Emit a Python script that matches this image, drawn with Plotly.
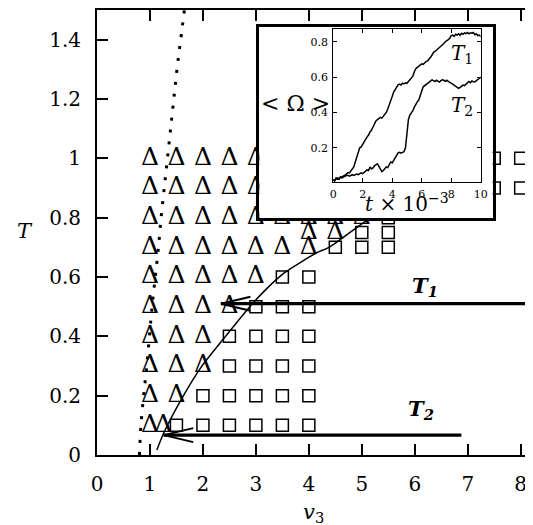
import plotly.graph_objects as go

# ---------------- data ----------------
v3_ticks = [0, 1, 2, 3, 4, 5, 6, 7, 8]
T_ticks = [0, 0.2, 0.4, 0.6, 0.8, 1.0, 1.2, 1.4]
T_tick_text = ["0", "0.2", "0.4", "0.6", "0.8", "1", "1.2", "1.4"]

# triangle-phase points
tri_v3 = [1, 1.5, 2, 2.5, 3,
          1, 1.5, 2, 2.5, 3,
          1, 1.5, 2, 2.5, 3, 3.5, 4, 4.5, 5,
          4, 4.5,
          1, 1.5, 2, 2.5, 3, 3.5, 4,
          1, 1.5, 2, 2.5, 3,
          1, 1.5, 2, 2.5,
          1, 1.5, 2,
          1, 1.5, 2,
          1, 1.5,
          1, 1.25]
tri_T = [1.0, 1.0, 1.0, 1.0, 1.0,
         0.9, 0.9, 0.9, 0.9, 0.9,
         0.8, 0.8, 0.8, 0.8, 0.8, 0.8, 0.8, 0.8, 0.8,
         0.75, 0.75,
         0.7, 0.7, 0.7, 0.7, 0.7, 0.7, 0.7,
         0.6, 0.6, 0.6, 0.6, 0.6,
         0.5, 0.5, 0.5, 0.5,
         0.4, 0.4, 0.4,
         0.3, 0.3, 0.3,
         0.2, 0.2,
         0.1, 0.1]

# square-phase points
sq_v3 = [7.5, 8,
         7.5, 8,
         5.5,
         5, 5.5,
         4.5, 5, 5.5,
         3.5, 4,
         3, 3.5, 4,
         2.5, 3, 3.5, 4,
         2.5, 3, 3.5, 4,
         2, 2.5, 3, 3.5, 4,
         1.5, 2, 2.5, 3, 3.5, 4]
sq_T = [1.0, 1.0,
        0.9, 0.9,
        0.8,
        0.75, 0.75,
        0.7, 0.7, 0.7,
        0.6, 0.6,
        0.5, 0.5, 0.5,
        0.4, 0.4, 0.4, 0.4,
        0.3, 0.3, 0.3, 0.3,
        0.2, 0.2, 0.2, 0.2, 0.2,
        0.1, 0.1, 0.1, 0.1, 0.1, 0.1]

# dotted boundary
bnd_T = [0, 0.1, 0.2, 0.3, 0.4, 0.5, 0.6, 0.7, 0.8, 0.9, 1.0, 1.1, 1.2, 1.3, 1.4, 1.5]
bnd_v3 = [0.80, 0.83, 0.88, 0.94, 0.99, 1.04, 1.10, 1.16, 1.21, 1.27, 1.33, 1.39, 1.45, 1.51, 1.58, 1.65]

# thin pointer curve
ptr_v3 = [1.13, 1.26, 1.60, 1.97, 2.45, 2.88, 3.20, 3.53, 4.14, 4.39, 5.02, 5.6]
ptr_T = [0.017, 0.074, 0.190, 0.297, 0.405, 0.499, 0.560, 0.613, 0.681, 0.701, 0.782, 0.85]

# quench arrows T1, T2
arrow_names = ["T1", "T2"]
arrow_T = [0.51, 0.067]
arrow_tip_v3 = [2.34, 1.26]
arrow_tail_v3 = [8.1, 6.88]

# inset time series
t_vals = [0.0, 0.1, 0.2, 0.3, 0.4, 0.5, 0.6, 0.7, 0.8, 0.9,
          1.0, 1.1, 1.2, 1.3, 1.4, 1.5, 1.6, 1.7, 1.8, 1.9,
          2.0, 2.1, 2.2, 2.3, 2.4, 2.5, 2.6, 2.7, 2.8, 2.9,
          3.0, 3.1, 3.2, 3.3, 3.4, 3.5, 3.6, 3.7, 3.8, 3.9,
          4.0, 4.1, 4.2, 4.3, 4.4, 4.5, 4.6, 4.7, 4.8, 4.9,
          5.0, 5.1, 5.2, 5.3, 5.4, 5.5, 5.6, 5.7, 5.8, 5.9,
          6.0, 6.1, 6.2, 6.3, 6.4, 6.5, 6.6, 6.7, 6.8, 6.9,
          7.0, 7.1, 7.2, 7.3, 7.4, 7.5, 7.6, 7.7, 7.8, 7.9,
          8.0, 8.1, 8.2, 8.3, 8.4, 8.5, 8.6, 8.7, 8.8, 8.9,
          9.0, 9.1, 9.2, 9.3, 9.4, 9.5, 9.6, 9.7, 9.8, 9.9, 10.0]
omega_T1 = [0.020, 0.015, 0.030, 0.022, 0.028, 0.035, 0.030, 0.042, 0.045, 0.052,
            0.060, 0.058, 0.072, 0.080, 0.092, 0.120, 0.150, 0.185, 0.200, 0.205,
            0.222, 0.240, 0.248, 0.262, 0.272, 0.290, 0.300, 0.318, 0.340, 0.352,
            0.360, 0.366, 0.372, 0.368, 0.378, 0.385, 0.400, 0.420, 0.440, 0.470,
            0.490, 0.515, 0.530, 0.545, 0.556, 0.560, 0.555, 0.566, 0.562, 0.568,
            0.565, 0.575, 0.584, 0.590, 0.605, 0.630, 0.648, 0.655, 0.662, 0.668,
            0.675, 0.672, 0.683, 0.688, 0.692, 0.700, 0.712, 0.725, 0.740, 0.745,
            0.752, 0.758, 0.765, 0.775, 0.782, 0.790, 0.800, 0.805, 0.812, 0.820,
            0.835, 0.838, 0.830, 0.842, 0.838, 0.845, 0.836, 0.848, 0.842, 0.850,
            0.846, 0.852, 0.845, 0.850, 0.848, 0.852, 0.840, 0.845, 0.835, 0.838, 0.828]
omega_T2 = [0.020, 0.012, 0.025, 0.030, 0.022, 0.035, 0.038, 0.034, 0.040, 0.042,
            0.045, 0.040, 0.046, 0.048, 0.044, 0.050, 0.052, 0.048, 0.055, 0.058,
            0.054, 0.060, 0.070, 0.075, 0.072, 0.092, 0.080, 0.086, 0.098, 0.105,
            0.110, 0.095, 0.080, 0.065, 0.072, 0.085, 0.092, 0.088, 0.105, 0.120,
            0.115, 0.130, 0.150, 0.162, 0.172, 0.175, 0.170, 0.174, 0.178, 0.200,
            0.300, 0.360, 0.385, 0.395, 0.410, 0.430, 0.448, 0.460, 0.470, 0.490,
            0.520, 0.545, 0.552, 0.560, 0.565, 0.572, 0.578, 0.584, 0.580, 0.575,
            0.582, 0.578, 0.572, 0.580, 0.585, 0.582, 0.576, 0.582, 0.574, 0.570,
            0.566, 0.560, 0.555, 0.548, 0.540, 0.536, 0.542, 0.548, 0.555, 0.552,
            0.560, 0.572, 0.575, 0.568, 0.578, 0.574, 0.572, 0.580, 0.588, 0.592, 0.598]
inset_xticks = [0, 2, 4, 6, 8, 10]
inset_yticks = [0.2, 0.4, 0.6, 0.8]

# ---------------- layout geometry ----------------
# The page body has an 8px margin, so the figure is sized to fit the window.
OFF = 8
WIN_W, WIN_H = 533, 525
W, H = WIN_W - OFF, WIN_H - OFF
PLOT_L, PLOT_R, PLOT_T, PLOT_B = 97, 533, 10, 455   # on-screen plot area
ML = PLOT_L - OFF
MT = PLOT_T - OFF
MR = WIN_W - PLOT_R
MB = H - (PLOT_B - OFF)
PW = PLOT_R - PLOT_L
PH = PLOT_B - PLOT_T
X_RANGE = [0, 8.1]
Y_RANGE = [0, 1.5]


def pxx(p):
    return (p - PLOT_L) / PW


def pxy(p):
    return (PLOT_B - p) / PH


SERIF = "DejaVu Serif"
BLACK = "black"

fig = go.Figure()

# dotted boundary
fig.add_trace(go.Scatter(x=bnd_v3, y=bnd_T, mode="lines",
                         line=dict(color=BLACK, width=3, dash="3px,9px", shape="spline"),
                         hoverinfo="skip", showlegend=False))
# squares
fig.add_trace(go.Scatter(x=sq_v3, y=sq_T, mode="markers",
                         marker=dict(symbol="square-open", size=12, color=BLACK, line=dict(width=1.5, color=BLACK)),
                         hoverinfo="skip", showlegend=False))
# triangles (Delta glyphs)
fig.add_trace(go.Scatter(x=tri_v3, y=tri_T, mode="text", text=["Δ"] * len(tri_v3),
                         textposition="middle center",
                         textfont=dict(family=SERIF, size=25, color=BLACK),
                         hoverinfo="skip", showlegend=False))
# pointer curve
fig.add_trace(go.Scatter(x=ptr_v3, y=ptr_T, mode="lines",
                         line=dict(color=BLACK, width=1.5, shape="spline", smoothing=0.6),
                         hoverinfo="skip", showlegend=False))

# arrows
x_unit_px = PW / (X_RANGE[1] - X_RANGE[0])
y_unit_px = PH / (Y_RANGE[1] - Y_RANGE[0])
barb_dx = 30 / x_unit_px
barb_dy = 7 / y_unit_px
for i in range(len(arrow_names)):
    T = arrow_T[i]
    tip = arrow_tip_v3[i]
    fig.add_trace(go.Scatter(x=[arrow_tail_v3[i], tip], y=[T, T], mode="lines",
                             line=dict(color=BLACK, width=3.2), hoverinfo="skip", showlegend=False))
    fig.add_trace(go.Scatter(x=[tip + barb_dx, tip, tip + barb_dx], y=[T + barb_dy, T, T - barb_dy], mode="lines",
                             line=dict(color=BLACK, width=2), hoverinfo="skip", showlegend=False))

# cover subplot (inset frame)
fig.add_trace(go.Scatter(x=[], y=[], xaxis="x2", yaxis="y2", mode="markers", showlegend=False, hoverinfo="skip"))

# inset curves
fig.add_trace(go.Scatter(x=t_vals, y=omega_T1, xaxis="x3", yaxis="y3", mode="lines",
                         line=dict(color=BLACK, width=1.5), hoverinfo="skip", showlegend=False))
fig.add_trace(go.Scatter(x=t_vals, y=omega_T2, xaxis="x3", yaxis="y3", mode="lines",
                         line=dict(color=BLACK, width=1.5), hoverinfo="skip", showlegend=False))

frame_x = [pxx(262), pxx(499)]
frame_y = [pxy(218), pxy(27)]
inset_x = [pxx(337), pxx(487)]
inset_y = [pxy(182.3), pxy(29)]

annotations = []


def ann(text, xp, yp, size, **kw):
    annotations.append(dict(text=text, x=pxx(xp), y=pxy(yp), xref="paper", yref="paper",
                            showarrow=False, xanchor="center", yanchor="middle",
                            font=dict(family=SERIF, size=size, color=BLACK), **kw))


ann("<i>T</i>", 24, 231, 21)
ann("<i>v</i><sub>3</sub>", 317, 513, 21)
ann("<b><i>T<sub>1</sub></i></b>", 430, 286, 21)
ann("<b><i>T<sub>2</sub></i></b>", 426, 409, 21)
ann("<i>T</i><sub>1</sub>", 468, 54, 20)
ann("<i>T</i><sub>2</sub>", 468, 106, 20)
ann("&lt; Ω &gt;", 299, 104, 22)
ann("<i>t</i> × 10<sup>−3</sup>", 412, 203, 20)

fig.update_layout(
    width=W, height=H,
    margin=dict(l=ML, r=MR, t=MT, b=MB, pad=0),
    paper_bgcolor="white", plot_bgcolor="white",
    showlegend=False,
    annotations=annotations,
    xaxis=dict(range=X_RANGE, tickvals=v3_ticks, ticks="inside", ticklen=11, tickwidth=1.5,
               showline=True, linewidth=2, linecolor=BLACK, mirror="ticks", tickcolor=BLACK,
               showgrid=False, zeroline=False, ticklabelstandoff=10,
               tickfont=dict(family=SERIF, size=20, color=BLACK)),
    yaxis=dict(range=Y_RANGE, tickvals=T_ticks, ticktext=T_tick_text, ticks="inside", ticklen=11, tickwidth=1.5,
               showline=True, linewidth=2, linecolor=BLACK, mirror=False, tickcolor=BLACK,
               showgrid=False, zeroline=False, ticklabelstandoff=10,
               tickfont=dict(family=SERIF, size=20, color=BLACK)),
    yaxis4=dict(range=Y_RANGE, tickvals=T_ticks, overlaying="y", side="right", anchor="x",
                ticks="inside", ticklen=6, tickwidth=1.5, tickcolor=BLACK, showline=False,
                showticklabels=False, showgrid=False, zeroline=False),
    xaxis2=dict(domain=frame_x, anchor="y2", range=[0, 1], showline=True, mirror=True, linewidth=3,
                linecolor=BLACK, showticklabels=False, ticks="", showgrid=False, zeroline=False),
    yaxis2=dict(domain=frame_y, anchor="x2", range=[0, 1], showline=True, mirror=True, linewidth=3,
                linecolor=BLACK, showticklabels=False, ticks="", showgrid=False, zeroline=False),
    xaxis3=dict(domain=inset_x, anchor="y3", range=[0, 10], tickvals=inset_xticks, ticks="inside", ticklen=4,
                tickwidth=1, showline=True, mirror="ticks", linewidth=1, linecolor=BLACK, tickcolor=BLACK,
                showgrid=False, zeroline=False, ticklabelstandoff=1,
                tickfont=dict(family=SERIF, size=11, color=BLACK)),
    yaxis3=dict(domain=inset_y, anchor="x3", range=[0.005, 0.872], tickvals=inset_yticks, ticks="inside", ticklen=4,
                tickwidth=1, showline=True, mirror="ticks", linewidth=1, linecolor=BLACK, tickcolor=BLACK,
                showgrid=False, zeroline=False, ticklabelstandoff=2,
                tickfont=dict(family=SERIF, size=11, color=BLACK)),
)

fig.write_html("out.html", config={"displayModeBar": False})
